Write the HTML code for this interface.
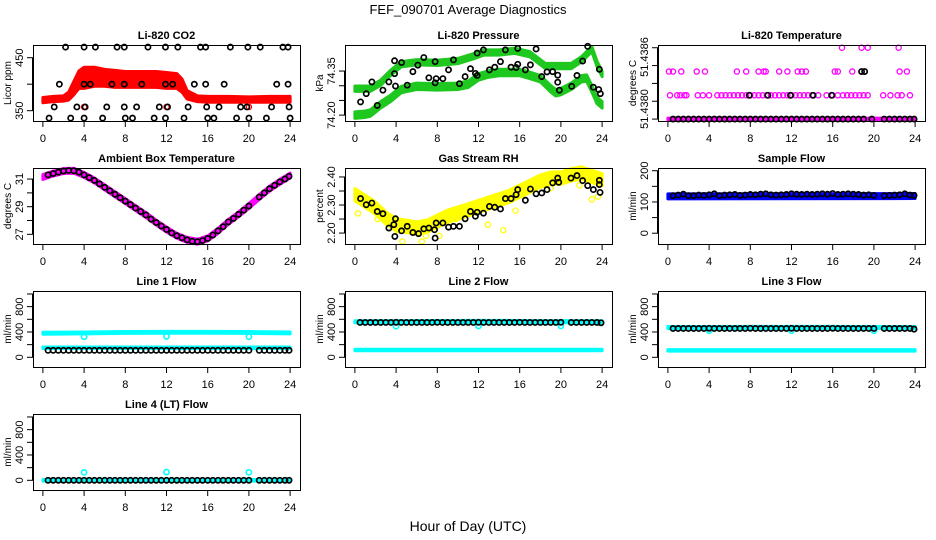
<!DOCTYPE html>
<html><head><meta charset="utf-8"><style>
html,body{margin:0;padding:0;background:#fff;}
svg{display:block;font-family:"Liberation Sans",sans-serif;}
</style></head><body>
<svg id="c" width="936" height="540" viewBox="0 0 936 540">
<text x="468" y="14" text-anchor="middle" font-size="13">FEF_090701  Average Diagnostics</text>
<text x="468" y="531" text-anchor="middle" font-size="14">Hour of Day (UTC)</text>
</svg>
<script>
// ---------- data ----------
const xTicks = [0,4,8,12,16,20,24];
const hh = [0.5,1,1.5,2,2.5,3,3.5,4,4.5,5,5.5,6,6.5,7,7.5,8,8.5,9,9.5,10,10.5,11,11.5,12,12.5,13,13.5,14,14.5,15,15.5,16,16.5,17,17.5,18,18.5,19,19.5,20,21,21.5,22,22.5,23,23.5,23.9];

// CO2
const co2BandX = [0,1,2,2.5,3,3.5,4,5,6,7,8,9,10,11,12,13,13.5,14,15,16,18,20,22,24];
const co2BandLo = [365,367,368,370,380,392,392,396,396,394,394,394,394,394,392,392,385,372,367,366,366,366,366,366];
const co2BandHi = [375,377,378,385,405,425,432,432,428,426,424,424,424,424,422,420,410,388,378,377,377,376,377,377];
const co2RedX = [4,12,20];
const co2RedY = [357,357,357];
const co2BlackX = [2.2,4.0,5.1,7.2,7.9,10.2,11.9,13.1,15.3,15.8,18.2,19.9,21.1,23.3,23.8, 1.6,4.0,4.6,6.7,7.9,9.6,11.9,12.6,14.7,15.8,17.6,22.7,23.8, 1.1,3.3,4.1,6.2,7.9,9.1,11.3,12.1,14.1,15.9,17.1,19.2,19.8,22.2,23.9, 0.6,2.7,4.0,5.8,8.0,8.7,10.8,11.9,13.7,16.0,16.6,18.8,20.0,21.7,24.0];
const co2BlackY = [470,470,470,470,470,470,470,470,470,470,470,470,470,470,470, 400,400,400,400,400,400,400,400,400,400,400,400,400, 357,357,357,357,357,357,357,357,357,357,357,357,357,357,357, 336,336,336,336,336,336,336,336,336,336,336,336,336,336,336];

// Pressure
const pLowX = [0,1,1.5,2.5,3.5,4.5,6,8,10,11,12,13,14,16,17,18,19,19.5,20,21,22,22.5,23,23.5,24];
const pLowC = [74.200,74.203,74.207,74.235,74.258,74.287,74.298,74.296,74.298,74.305,74.330,74.340,74.345,74.345,74.335,74.324,74.290,74.276,74.280,74.298,74.324,74.326,74.290,74.250,74.235];
const pUpX = [0,1.5,2.5,3.5,4.5,6,8,10,11.5,12.5,14,15.5,17,18.5,19.5,21,22,23,23.5,24];
const pUpC = [74.290,74.290,74.310,74.345,74.373,74.380,74.378,74.384,74.400,74.413,74.413,74.419,74.407,74.367,74.367,74.367,74.390,74.425,74.375,74.340];
const pBlackX = [1.10,0.55,1.65,2.17,2.72,3.30,3.85,3.85,3.94,4.53,5.08,5.63,6.11,6.69,7.18,7.79,7.79,7.89,8.54,9.09,9.57,10.15,10.70,11.22,11.70,11.87,11.87,12.48,13.06,13.58,14.13,14.61,15.16,15.65,15.81,15.81,16.55,17.04,17.59,18.14,18.65,19.20,19.69,19.69,19.85,21.05,21.56,22.11,22.60,23.15,23.67,23.73,23.83];
const pBlackY = [74.273,74.245,74.313,74.233,74.285,74.313,74.341,74.385,74.299,74.379,74.302,74.348,74.370,74.396,74.327,74.382,74.310,74.324,74.324,74.354,74.388,74.307,74.331,74.358,74.342,74.411,74.335,74.422,74.354,74.363,74.382,74.422,74.363,74.362,74.373,74.427,74.354,74.371,74.425,74.331,74.347,74.348,74.336,74.312,74.285,74.298,74.335,74.384,74.434,74.295,74.287,74.356,74.273];

// Li-820 temperature
const tPinkX = [0.2,0.9,1.2,1.6,1.8,2.9,3.4,4.0,4.8,5.2,5.6,6.0,6.4,6.8,7.2,7.6,8.0,8.4,8.8,9.2,9.6,10.0,10.4,10.8,11.2,11.6,12.0,12.4,12.8,13.2,13.6,14.0,14.6,15.4,16.0,16.5,17.0,17.4,17.8,18.2,18.6,19.0,19.4,20.9,21.6,22.3,22.7,23.5, 0.1,0.5,1.3,2.8,3.6,6.7,7.6,8.8,9.3,9.5,10.8,11.6,12.6,13.0,13.4,16.2,16.5,17.9,18.8,19.1,22.5,23.2, 16.9,18.8,19.4,22.4];
const tPinkY = [51.4382,51.4382,51.4382,51.4382,51.4382,51.4382,51.4382,51.4382,51.4382,51.4382,51.4382,51.4382,51.4382,51.4382,51.4382,51.4382,51.4382,51.4382,51.4382,51.4382,51.4382,51.4382,51.4382,51.4382,51.4382,51.4382,51.4382,51.4382,51.4382,51.4382,51.4382,51.4382,51.4382,51.4382,51.4382,51.4382,51.4382,51.4382,51.4382,51.4382,51.4382,51.4382,51.4382,51.4382,51.4382,51.4382,51.4382,51.4382, 51.4384,51.4384,51.4384,51.4384,51.4384,51.4384,51.4384,51.4384,51.4384,51.4384,51.4384,51.4384,51.4384,51.4384,51.4384,51.4384,51.4384,51.4384,51.4384,51.4384,51.4384,51.4384, 51.4386,51.4386,51.4386,51.4386];
const tBaseX = [0,24];
const tBaseY = [51.4380,51.4380];
const tBlackX = [0.5,1,1.5,2,2.5,3,3.5,4,4.5,5,5.5,6,6.5,7,7.5,8,8.5,9,9.5,10,10.5,11,11.5,12,12.5,13,13.5,14,14.5,15,15.5,16,16.5,17,17.5,18,18.5,19,19.8,21,21.5,22,22.5,23,23.5,23.9, 7.9,9.7,11.9,14.1,15.9, 18.8,19.1];
const tBlackY = [51.4380,51.4380,51.4380,51.4380,51.4380,51.4380,51.4380,51.4380,51.4380,51.4380,51.4380,51.4380,51.4380,51.4380,51.4380,51.4380,51.4380,51.4380,51.4380,51.4380,51.4380,51.4380,51.4380,51.4380,51.4380,51.4380,51.4380,51.4380,51.4380,51.4380,51.4380,51.4380,51.4380,51.4380,51.4380,51.4380,51.4380,51.4380,51.4380,51.4380,51.4380,51.4380,51.4380,51.4380,51.4380,51.4380, 51.4382,51.4382,51.4382,51.4382,51.4382, 51.4384,51.4384];

// Ambient temperature
const ambX = [0,1,2,3,4,5,6,7,8,9,10,11,12,13,14,15,16,17,18,19,20,21,22,23,24];
const ambY = [31.15,31.4,31.58,31.6,31.3,30.9,30.4,29.9,29.4,28.9,28.4,27.85,27.35,26.9,26.6,26.47,26.7,27.25,27.9,28.45,29.05,29.7,30.3,30.8,31.25];
const ambBlack = [31.3,31.4,31.5,31.58,31.62,31.6,31.5,31.3,31.1,30.9,30.65,30.4,30.15,29.9,29.65,29.4,29.15,28.9,28.65,28.4,28.1,27.85,27.6,27.35,27.1,26.9,26.75,26.6,26.5,26.47,26.55,26.7,26.95,27.25,27.55,27.9,28.15,28.45,28.75,29.05,29.7,30.0,30.3,30.55,30.8,31.0,31.2];

// Gas stream RH
const rhX = [0,1,2,3,4,5,6,7,8,9,10,11,12,13,14,15,16,17,18,19,20,21,22,23,24];
const rhY = [2.337,2.313,2.289,2.254,2.23,2.224,2.218,2.224,2.242,2.26,2.271,2.283,2.295,2.307,2.319,2.331,2.349,2.367,2.385,2.396,2.396,2.408,2.414,2.402,2.39];
const rhBlackX = [0.55,1.10,1.65,2.17,2.72,3.30,3.78,3.88,3.94,4.53,5.08,5.63,6.18,6.69,7.18,7.73,7.79,7.89,8.54,9.09,9.57,10.15,10.70,11.22,11.70,11.87,12.48,13.06,13.58,14.13,14.61,15.16,15.65,15.81,16.55,17.04,17.59,18.14,18.65,19.20,19.69,19.79,20.98,21.56,22.11,22.60,23.15,23.73,23.73,23.80];
const rhBlackY = [2.323,2.301,2.307,2.277,2.269,2.218,2.230,2.188,2.251,2.208,2.224,2.202,2.198,2.215,2.218,2.212,2.182,2.236,2.236,2.221,2.224,2.224,2.251,2.277,2.260,2.274,2.271,2.295,2.292,2.286,2.323,2.323,2.337,2.355,2.317,2.357,2.340,2.343,2.355,2.379,2.396,2.381,2.396,2.405,2.387,2.369,2.355,2.388,2.373,2.345];
const rhOutX = [0.3,2.2,4.1,4.6,6.5,6.9,8.2,9.8,12.9,14.4,15.6,19.0,21.8,23.0,23.6];
const rhOutY = [2.27,2.25,2.21,2.17,2.17,2.19,2.19,2.25,2.23,2.21,2.28,2.36,2.37,2.32,2.33];

// Sample flow
const sfX = [0,24];
const sfY = [118,119];
const sfBlack = [120,122,125,120,120,122,121,123,126,120,122,123,124,121,122,124,123,125,126,123,122,123,124,126,125,124,125,124,125,126,125,127,124,125,126,125,124,122,123,121,120,121,122,123,126,122,121];

// Line flows
const flowBandX = [0,4,8,12,16,20,24];
const l1Up = [380,385,392,395,395,392,385];
const l1Low = [150,150,150,150,150,150,150];
const l1Black = [110,110,110,110,110,110,110,110,110,110,110,110,110,110,110,110,110,110,110,110,110,110,110,110,110,110,110,110,110,110,110,110,110,110,110,110,110,110,110,110,110,110,110,110,110,110,110];
const l2Up = [560,562,565,566,565,563,560];
const l2Low = [115,115,115,115,115,115,115];
const l2Black = [550,550,550,550,550,550,550,552,550,550,550,550,550,550,550,552,550,550,550,550,550,550,550,552,550,550,550,550,550,550,550,552,550,550,550,550,550,550,550,552,550,550,550,550,550,550,545];
const l3Up = [470,470,472,472,472,470,470];
const l3Low = [110,110,110,110,110,110,110];
const l3Black = [455,455,455,455,455,455,455,458,455,455,455,455,455,455,455,458,455,455,455,455,455,455,455,458,455,455,455,455,455,455,455,458,455,455,455,455,455,455,455,455,455,455,455,455,455,455,445];
const l4Band = [0,0,0,0,0,0,0];
const l4Black = [0,0,0,0,0,0,0,0,0,0,0,0,0,0,0,0,0,0,0,0,0,0,0,0,0,0,0,0,0,0,0,0,0,0,0,0,0,0,0,0,0,0,0,0,0,0,0];
const dipX = [4,12,20];
const l1Dip = [325,330,325];
const l2Dip = [490,495,495];
const l3Dip = [420,420,420];
const l4Dip = [125,130,125];

// ---------- drawing ----------
const svg = document.getElementById('c');
const NS = 'http://www.w3.org/2000/svg';
function mk(tag, attrs, parent){ const e=document.createElementNS(NS,tag); for(const k in attrs) e.setAttribute(k,attrs[k]); (parent||svg).appendChild(e); return e; }
const colL=[33,345,658], rowT=[45,168,291,414], PW=267, PH=76;

function panel(col,row,ylim,yticks,ylabels,title,ytitle,name){
  const L=colL[col], T=rowT[row];
  const g=mk('g',{});
  
  
  const sx=h=>L+(h+0.96)/25.92*PW;
  const sy=v=>T+PH-(v-ylim[0])/(ylim[1]-ylim[0])*PH;
  const pg=mk('g',{},g);
  
  
  const t=mk('text',{x:L+PW/2,y:T-6,'text-anchor':'middle','font-size':11,'font-weight':'bold'},g);
  t.textContent=title;
  
  
  const yt=mk('text',{x:L-22,y:T+PH/2,'text-anchor':'middle','font-size':10,transform:`rotate(-90 ${L-22} ${T+PH/2})`},g);
  yt.textContent=ytitle;
  
  
  const ax=mk('g',{stroke:'#000','stroke-width':1,fill:'none'},g);
  
  
  mk('line',{x1:sx(0),x2:sx(24),y1:T+PH+0.5,y2:T+PH+0.5},ax);
  xTicks.forEach(v=>{
    mk('line',{x1:sx(v),x2:sx(v),y1:T+PH,y2:T+PH+6},ax);
    const tl=mk('text',{x:sx(v),y:T+PH+21,'text-anchor':'middle','font-size':11,fill:'#000',stroke:'none'},g);
    tl.textContent=v;
    
    
  });
  mk('line',{x1:L-0.5,x2:L-0.5,y1:sy(yticks[0]),y2:sy(yticks[yticks.length-1])},ax);
  yticks.forEach(v=>{ mk('line',{x1:L-6,x2:L,y1:sy(v),y2:sy(v)},ax); });
  ylabels.forEach(lb=>{
    const yy = lb[2]!==undefined ? lb[2] : sy(lb[0]);
    const tl=mk('text',{x:L-10,y:yy,'text-anchor':'middle','font-size':11,transform:`rotate(-90 ${L-10} ${yy})`},g);
    tl.textContent=lb[1];
    
    
  });
  mk('rect',{x:L+0.5,y:T+0.5,width:PW,height:PH,fill:'none',stroke:'#000','stroke-width':1},g);
  return {sx,sy,g:pg};
}
function pts(p,xs,ys,color,name,sw){
  const g=mk('g',{fill:'none',stroke:color,'stroke-width':sw||1.3},p.g);
  
  
  for(let i=0;i<xs.length;i++){
    const c=mk('circle',{cx:p.sx(xs[i]),cy:p.sy(ys[i]),r:2.6},g);
    
    
  }
}
function band(p,xs,lo,hi,color,name){
  const g=mk('g',{},p.g);
  
  
  let d='';
  for(let i=0;i<xs.length;i++) d+=(i?'L':'M')+p.sx(xs[i])+' '+p.sy(hi[i]);
  for(let i=xs.length-1;i>=0;i--) d+='L'+p.sx(xs[i])+' '+p.sy(lo[i]);
  mk('path',{d:d+'Z',fill:color,stroke:color,'stroke-width':3,'stroke-linejoin':'round'},g);
}
function bandC(p,xs,c,hw,color,name){
  band(p,xs,c.map(v=>v-hw),c.map(v=>v+hw),color,name);
}

// CO2
let p=panel(0,0,[330.5,474],[350,400,450],[[350,'350'],[450,'450']],'Li-820 CO2','Licor ppm','co2');
band(p,co2BandX,co2BandLo,co2BandHi,'#ff0000','co2-band');
pts(p,co2RedX,co2RedY,'#ff0000','co2-red-points');
pts(p,co2BlackX,co2BlackY,'#000','co2-hourly-points',1.7);

// Pressure
p=panel(1,0,[74.18,74.4386],[74.20,74.25,74.30,74.35],[[74.20,'74.20'],[74.35,'74.35']],'Li-820 Pressure','kPa','pressure');
bandC(p,pLowX,pLowC,0.011,'#1ec81e','pressure-low-band');
bandC(p,pUpX,pUpC,0.009,'#1ec81e','pressure-high-band');
pts(p,pBlackX,pBlackY,'#000','pressure-hourly-points',1.7);

// Li-820 temperature
p=panel(2,0,[51.437984,51.438623],[51.4380,51.43815,51.4383,51.43845,51.4386],[[51.4380,'51.4380',109],[51.4386,'51.4386',57]],'Li-820 Temperature','degrees C','licor-temp');
bandC(p,tBaseX,tBaseY,0.000008,'#ff00ff','licor-temp-base-band');
pts(p,tPinkX,tPinkY,'#ff00ff','licor-temp-points');
pts(p,tBlackX,tBlackY,'#000','licor-temp-hourly-points',1.7);

// Ambient
p=panel(0,1,[26.3,31.8],[27,28,29,30,31],[[27,'27'],[29,'29'],[31,'31']],'Ambient Box Temperature','degrees C','ambient-temp');
bandC(p,ambX,ambY,0.18,'#ff00ff','ambient-band');
pts(p,hh,ambBlack,'#000','ambient-hourly-points',1.7);

// RH
p=panel(1,1,[2.161,2.432],[2.20,2.25,2.30,2.35,2.40],[[2.20,'2.20'],[2.30,'2.30'],[2.40,'2.40']],'Gas Stream RH','percent','rh');
bandC(p,rhX,rhY,0.022,'#ffff00','rh-band');
pts(p,rhOutX,rhOutY,'#ffff00','rh-scatter');
pts(p,rhBlackX,rhBlackY,'#000','rh-hourly-points',1.7);

// Sample flow
p=panel(2,1,[-34.5,208.7],[0,50,100,150,200],[[0,'0'],[100,'100'],[200,'200']],'Sample Flow','ml/min','sample-flow');
bandC(p,sfX,sfY,8,'#0000ff','sample-flow-band');
pts(p,hh,sfBlack,'#000','sample-flow-hourly-points',1.7);

const fT=[0,200,400,600,800,1000], fL=[[0,'0'],[400,'400'],[800,'800']], fy=[-153,1047];
p=panel(0,2,fy,fT,fL,'Line 1 Flow','ml/min','line1-flow');
bandC(p,flowBandX,l1Up,15,'#00ffff','line1-upper-band');
bandC(p,flowBandX,l1Low,12,'#00ffff','line1-lower-band');
pts(p,dipX,l1Dip,'#00ffff','line1-dips',1.6);
pts(p,hh,l1Black,'#000','line1-hourly-points',1.7);

p=panel(1,2,fy,fT,fL,'Line 2 Flow','ml/min','line2-flow');
bandC(p,flowBandX,l2Up,17,'#00ffff','line2-upper-band');
bandC(p,flowBandX,l2Low,12,'#00ffff','line2-lower-band');
pts(p,dipX,l2Dip,'#00ffff','line2-dips',1.6);
pts(p,hh,l2Black,'#000','line2-hourly-points',1.7);

p=panel(2,2,fy,fT,fL,'Line 3 Flow','ml/min','line3-flow');
bandC(p,flowBandX,l3Up,17,'#00ffff','line3-upper-band');
bandC(p,flowBandX,l3Low,12,'#00ffff','line3-lower-band');
pts(p,dipX,l3Dip,'#00ffff','line3-dips',1.6);
pts(p,hh,l3Black,'#000','line3-hourly-points',1.7);

p=panel(0,3,fy,fT,fL,'Line 4 (LT) Flow','ml/min','line4-flow');
bandC(p,flowBandX,l4Band,12,'#00ffff','line4-band');
pts(p,dipX,l4Dip,'#00ffff','line4-spikes',1.6);
pts(p,hh,l4Black,'#000','line4-hourly-points',1.7);
</script>
</body></html>
